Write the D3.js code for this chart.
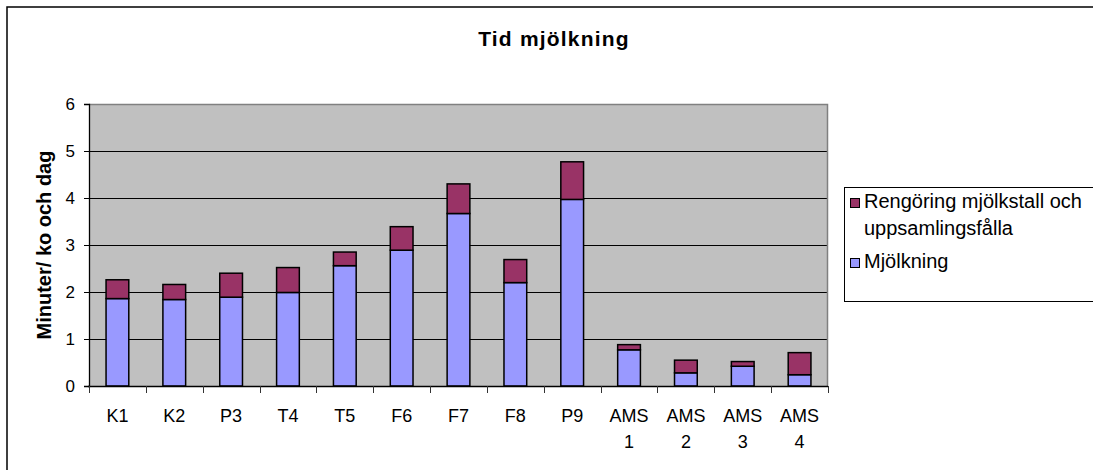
<!DOCTYPE html>
<html>
<head>
<meta charset="utf-8">
<script src="https://cdn.jsdelivr.net/npm/d3@7"></script>
<style>
  html, body { margin: 0; padding: 0; background: #fff; }
  svg { display: block; }
  text { font-family: "Liberation Sans", Arial, sans-serif; fill: #000; }
</style>
</head>
<body>
<svg id="chart" width="1093" height="470"></svg>
<script>
const categories = ["K1", "K2", "P3", "T4", "T5", "F6", "F7", "F8", "P9", "AMS 1", "AMS 2", "AMS 3", "AMS 4"];
const mjolkning = [1.86, 1.84, 1.89, 1.99, 2.56, 2.89, 3.67, 2.20, 3.97, 0.77, 0.28, 0.42, 0.24];
const rengoring = [0.40, 0.32, 0.51, 0.53, 0.29, 0.50, 0.63, 0.49, 0.80, 0.11, 0.27, 0.10, 0.47];
const seriesNames = ["Mjölkning", "Rengöring mjölkstall och uppsamlingsfålla"];
const legendLines = [["Rengöring mjölkstall och", "uppsamlingsfålla"], ["Mjölkning"]];
const yTicks = [0, 1, 2, 3, 4, 5, 6];
const titleText = "Tid mjölkning";
const yTitle = "Minuter/ ko och dag";

const colors = { "Mjölkning": "#9999FF", "Rengöring mjölkstall och uppsamlingsfålla": "#993366" };

const svg = d3.select("#chart");
const plot = { left: 89, right: 828, top: 104, bottom: 386 };

// outer chart border
svg.append("rect").attr("x", 7).attr("y", 7).attr("width", 1200).attr("height", 600)
  .attr("fill", "none").attr("stroke", "#000").attr("stroke-width", 1.5);

const x = d3.scaleBand().domain(categories).range([plot.left, plot.right])
  .paddingInner(0.6).paddingOuter(0.3);
const y = d3.scaleLinear().domain([0, 6]).range([plot.bottom, plot.top]);

// plot background
svg.append("rect").attr("x", plot.left).attr("y", plot.top)
  .attr("width", plot.right - plot.left).attr("height", plot.bottom - plot.top)
  .attr("fill", "#C0C0C0");

// gridlines
svg.append("g").selectAll("line").data(yTicks.filter(d => d > 0 && d < 6)).join("line")
  .attr("x1", plot.left).attr("x2", plot.right)
  .attr("y1", d => Math.round(y(d)) + 0.5).attr("y2", d => Math.round(y(d)) + 0.5)
  .attr("stroke", "#000").attr("stroke-width", 1);

// plot border top/right (gray)
svg.append("path")
  .attr("d", `M${plot.left},${plot.top + 0.5}H${plot.right - 0.5}V${plot.bottom}`)
  .attr("fill", "none").attr("stroke", "#808080").attr("stroke-width", 1.5);

// stacked data
const rows = categories.map((c, i) => ({ cat: c, "Mjölkning": mjolkning[i], "Rengöring mjölkstall och uppsamlingsfålla": rengoring[i] }));
const stack = d3.stack().keys(seriesNames)(rows);

svg.append("g").selectAll("g").data(stack).join("g")
  .attr("fill", d => colors[d.key])
  .selectAll("rect").data(d => d).join("rect")
  .attr("x", d => x(d.data.cat))
  .attr("width", x.bandwidth())
  .attr("y", d => y(d[1]))
  .attr("height", d => y(d[0]) - y(d[1]))
  .attr("stroke", "#000").attr("stroke-width", 1.5);

// y axis
const yAxis = svg.append("g").attr("transform", `translate(${plot.left},0)`)
  .call(d3.axisLeft(y).tickValues(yTicks).tickSize(5).tickPadding(9).tickFormat(d3.format("d")));
yAxis.select(".domain").attr("stroke", "#000").attr("stroke-width", 1.3);
yAxis.selectAll(".tick line").attr("stroke", "#000");
yAxis.selectAll(".tick text").style("font-size", "17px").attr("font-family", null);

// x axis line
svg.append("line").attr("x1", plot.left - 1).attr("x2", plot.right)
  .attr("y1", plot.bottom + 0.5).attr("y2", plot.bottom + 0.5)
  .attr("stroke", "#000").attr("stroke-width", 1.3);

// x tick marks at category boundaries
const step = x.step();
const boundaries = d3.range(categories.length + 1).map(i => plot.left + i * step);
svg.append("g").selectAll("line").data(boundaries).join("line")
  .attr("x1", d => Math.round(d) + 0.5).attr("x2", d => Math.round(d) + 0.5)
  .attr("y1", plot.bottom).attr("y2", plot.bottom + 7)
  .attr("stroke", "#333").attr("stroke-width", 1);

// x labels
const xl = svg.append("g").selectAll("text").data(categories).join("text")
  .attr("x", d => x(d) + x.bandwidth() / 2)
  .attr("y", 422)
  .attr("text-anchor", "middle")
  .style("font-size", "18px");
xl.selectAll("tspan").data(d => d.split(" ")).join("tspan")
  .attr("x", function() { return d3.select(this.parentNode).attr("x"); })
  .attr("dy", (d, i) => i === 0 ? 0 : 26)
  .text(d => d);

// title
svg.append("text").attr("x", 554).attr("y", 46).attr("text-anchor", "middle")
  .style("font-size", "21px").style("font-weight", "bold").style("letter-spacing", "1.2px")
  .text(titleText);

// y title
svg.append("text")
  .attr("transform", `translate(51,${(plot.top + plot.bottom) / 2}) rotate(-90)`)
  .attr("text-anchor", "middle")
  .style("font-size", "20px").style("font-weight", "bold")
  .text(yTitle);

// legend
const lg = svg.append("g");
lg.append("rect").attr("x", 844.5).attr("y", 187.5).attr("width", 300).attr("height", 114)
  .attr("fill", "#fff").attr("stroke", "#000").attr("stroke-width", 1);
const legendKeys = [seriesNames[1], seriesNames[0]];
const legendY = [208, 268];
legendKeys.forEach((k, i) => {
  lg.append("rect").attr("x", 850.5).attr("y", legendY[i] - 9.5).attr("width", 9).attr("height", 9)
    .attr("fill", colors[k]).attr("stroke", "#000").attr("stroke-width", 1);
  const t = lg.append("text").attr("x", 864).attr("y", legendY[i]).style("font-size", "20px");
  legendLines[i].forEach((line, j) => {
    t.append("tspan").attr("x", 864).attr("dy", j === 0 ? 0 : 27).text(line);
  });
});
</script>
</body>
</html>
